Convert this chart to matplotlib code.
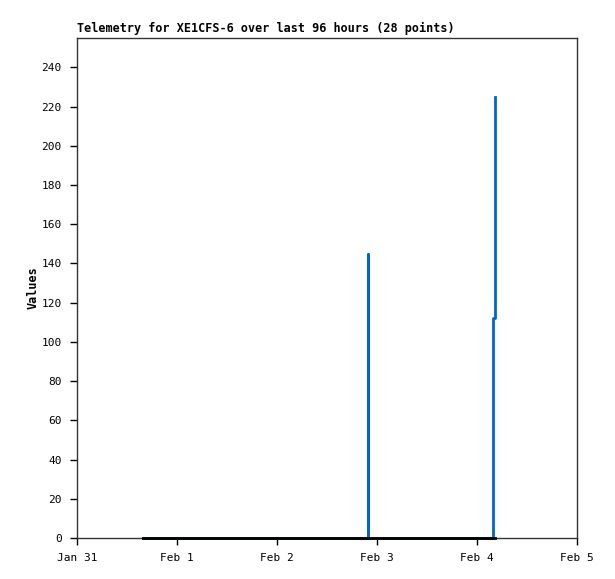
import numpy as np
import pandas as pd
import matplotlib
matplotlib.use("Agg")
import matplotlib.pyplot as plt
import matplotlib.dates as mdates

# 28 telemetry samples (timestamps)
times = pd.to_datetime([
    "2024-01-31 15:50", "2024-01-31 19:40", "2024-01-31 23:30", "2024-02-01 03:20",
    "2024-02-01 07:10", "2024-02-01 11:00", "2024-02-01 14:50", "2024-02-01 18:40",
    "2024-02-01 22:30", "2024-02-02 02:20", "2024-02-02 06:10", "2024-02-02 10:00",
    "2024-02-02 13:50", "2024-02-02 17:40", "2024-02-02 21:45", "2024-02-02 21:55",
    "2024-02-03 01:30", "2024-02-03 05:20", "2024-02-03 09:10", "2024-02-03 13:00",
    "2024-02-03 16:50", "2024-02-03 20:40", "2024-02-04 00:30", "2024-02-04 02:10",
    "2024-02-04 03:10", "2024-02-04 03:40", "2024-02-04 03:50", "2024-02-04 04:20",
])
values_a = [0, 0, 0, 0, 0, 0, 0, 0, 0, 0, 0, 0, 0, 0,
            145, 0, 0, 0, 0, 0, 0, 0, 0, 0, 0, 0, 112, 225]
values_b = [0] * 28

title = "Telemetry for XE1CFS-6 over last 96 hours (28 points)"
tick_days = pd.date_range("2024-01-31", "2024-02-05", freq="D")

plt.rcParams["font.family"] = ["DejaVu Sans Mono"]

fig = plt.figure(figsize=(6.15, 5.79), dpi=100)
ax = fig.add_axes([77 / 615, 41 / 579, 500 / 615, 500 / 579])

ax.plot(times, values_a, drawstyle="steps-post", color="#0066cc", lw=2,
        zorder=2, clip_on=False)
ax.plot(times, values_b, drawstyle="steps-post", color="black", lw=2,
        zorder=3, clip_on=False)

ax.set_xlim(tick_days[0], tick_days[-1])
ax.set_ylim(0, 255)
ax.set_yticks(np.arange(0, 241, 20))
ax.set_xticks(tick_days)
ax.xaxis.set_major_formatter(mdates.DateFormatter("%b %-d"))

ax.tick_params(direction="out", length=5, width=1, labelsize=8, pad=6,
               top=False, right=False)
for s in ax.spines.values():
    s.set_linewidth(1)
    s.set_color("#333333")

ax.set_ylabel("Values", fontsize=8.5, fontweight="bold", labelpad=1.5)
ax.set_title(title, loc="left", fontsize=8.45, fontweight="bold", pad=4)

fig.savefig("out.png", dpi=100)
